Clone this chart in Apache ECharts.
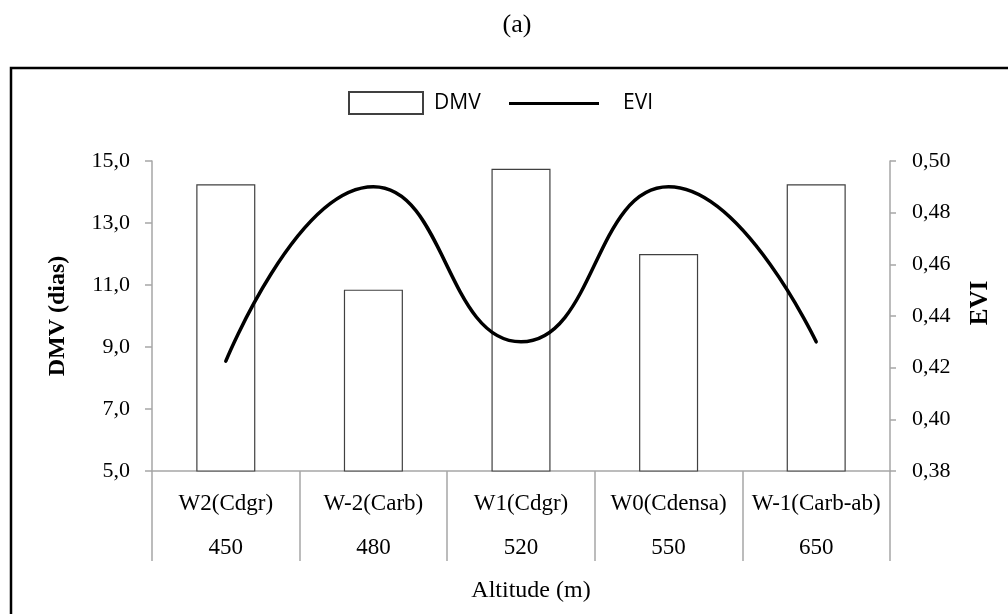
<!DOCTYPE html>
<html>
<head>
<meta charset="utf-8">
<script src="https://cdn.jsdelivr.net/npm/echarts@6/dist/echarts.min.js"></script>
<style>
  html, body { margin: 0; padding: 0; background: #fff; }
  #chart { width: 1008px; height: 614px; }
</style>
</head>
<body>
<div id="chart"></div>
<script>
  // sites and altitudes (two-row category axis)
  var sites = ["W2(Cdgr)", "W-2(Carb)", "W1(Cdgr)", "W0(Cdensa)", "W-1(Carb-ab)"];
  var altitudes = ["450", "480", "520", "550", "650"];
  var dmv = [14.25, 10.85, 14.75, 12.0, 14.25];
  var evi = [0.4225, 0.490, 0.430, 0.490, 0.430];

  var serif = "Liberation Serif";
  var axisGray = "#a6a6a6";

  var categories = sites.map(function (s, i) {
    return s + "\n" + altitudes[i];
  });

  var chart = echarts.init(document.getElementById("chart"));
  var option = {
    backgroundColor: "#fff",
    animation: false,
    title: {
      text: "(a)",
      left: 512,
      top: 7,
      textAlign: "center",
      textStyle: { fontFamily: serif, fontSize: 26, fontWeight: "normal", color: "#000" }
    },
    legend: [
      {
        data: [{ name: "DMV", icon: "rect" }],
        left: 343,
        top: 86,
        itemWidth: 74,
        itemHeight: 22,
        textStyle: { fontFamily: "Open Sans", fontSize: 21, color: "#000", padding: [0, 0, 0, 6] }
      },
      {
        data: [{ name: "EVI", icon: "path://M0,0 H90 V3 H0 Z" }],
        left: 504,
        top: 88,
        itemWidth: 90,
        itemHeight: 3.5,
        textStyle: { fontFamily: "Open Sans", fontSize: 21, color: "#000", padding: [0, 0, 0, 19] }
      }
    ],
    grid: { left: 152, right: 118, top: 161, bottom: 143 },
    xAxis: {
      type: "category",
      data: categories,
      name: "Altitude (m)",
      nameLocation: "middle",
      nameGap: 108,
      nameTextStyle: { fontFamily: serif, fontSize: 24, color: "#000", padding: [0, 0, 0, 20] },
      axisLine: { lineStyle: { color: axisGray, width: 1.5 } },
      axisTick: { show: true, length: 90, alignWithLabel: false, lineStyle: { color: axisGray, width: 1.5 } },
      axisLabel: {
        margin: 11,
        fontFamily: serif,
        fontSize: 23,
        color: "#000",
        lineHeight: 44,
        interval: 0
      }
    },
    yAxis: [
      {
        type: "value",
        min: 5,
        max: 15,
        interval: 2,
        name: "DMV (dias)",
        nameLocation: "middle",
        nameRotate: 90,
        nameGap: 82,
        nameTextStyle: { fontFamily: serif, fontSize: 24, fontWeight: "bold", color: "#000" },
        axisLine: { show: true, lineStyle: { color: axisGray, width: 1.5 } },
        axisTick: { show: true, length: 7, lineStyle: { color: axisGray, width: 1.5 } },
        splitLine: { show: false },
        axisLabel: {
          margin: 22,
          fontFamily: serif,
          fontSize: 22,
          color: "#000",
          formatter: function (v) { return v.toFixed(1).replace(".", ","); }
        }
      },
      {
        type: "value",
        min: 0.38,
        max: 0.50,
        interval: 0.02,
        position: "right",
        name: "EVI",
        nameLocation: "middle",
        nameRotate: 90,
        nameGap: 78,
        nameTextStyle: { fontFamily: serif, fontSize: 25, fontWeight: "bold", color: "#000", padding: [0, 0, 0, 26] },
        axisLine: { show: true, lineStyle: { color: axisGray, width: 1.5 } },
        axisTick: { show: true, length: 6, lineStyle: { color: axisGray, width: 1.5 } },
        splitLine: { show: false },
        axisLabel: {
          margin: 22,
          fontFamily: serif,
          fontSize: 22,
          color: "#000",
          formatter: function (v) { return v.toFixed(2).replace(".", ","); }
        }
      }
    ],
    series: [
      {
        name: "DMV",
        type: "bar",
        data: dmv,
        barWidth: "40%",
        itemStyle: { color: "#fff", borderColor: "#404040", borderWidth: 1.2 }
      },
      {
        name: "EVI",
        type: "line",
        yAxisIndex: 1,
        data: evi,
        smooth: 0.5,
        symbol: "none",
        lineStyle: { color: "#000", width: 3.5, cap: "round" },
        itemStyle: { color: "#000" }
      }
    ],
    graphic: [
      {
        type: "rect",
        shape: { x: 11, y: 68, width: 1020, height: 580 },
        style: { fill: null, stroke: "#000", lineWidth: 2.5 },
        silent: true
      }
    ]
  };
  chart.setOption(option);
</script>
</body>
</html>
